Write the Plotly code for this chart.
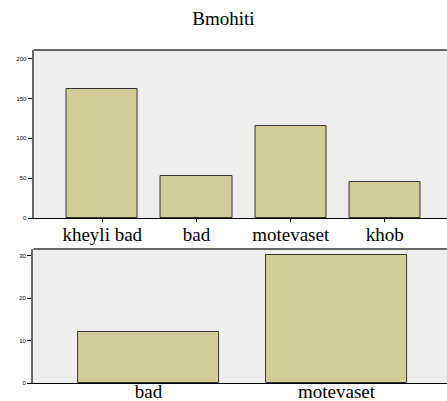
import plotly.graph_objects as go

title_text = "Bmohiti"
top_categories = ["kheyli bad", "bad", "motevaset", "khob"]
top_values = [162, 53, 116, 45]
top_ticks = [0, 50, 100, 150, 200]

bottom_categories = ["bad", "motevaset"]
bottom_values = [12, 30]
bottom_ticks = [0, 10, 20, 30]

bar_color = "#d2cd98"
edge_color = "#333333"
bg = "#eeeeee"
serif = "Liberation Serif, Times New Roman, serif"

H = 401.0

def fy(px):
    return 1 - px / H

fig = go.Figure()
fig.add_trace(go.Bar(x=top_categories, y=top_values, width=0.755,
                     marker=dict(color=bar_color, line=dict(color=edge_color, width=1)),
                     xaxis="x", yaxis="y", showlegend=False))
fig.add_trace(go.Bar(x=bottom_categories, y=bottom_values, width=0.75,
                     marker=dict(color=bar_color, line=dict(color=edge_color, width=1)),
                     xaxis="x2", yaxis="y2", showlegend=False))

common_x = dict(showline=True, linecolor="black", linewidth=1, ticks="outside",
                tickcolor="black", showgrid=False, zeroline=False, automargin=False,
                tickfont=dict(family=serif, size=19, color="black"), fixedrange=True)
common_y = dict(showline=True, linecolor="#666666", linewidth=2, ticks="outside",
                ticklen=4, tickcolor="black", showgrid=False, zeroline=False, automargin=False,
                tickfont=dict(family="Arial, sans-serif", size=6, color="black"), fixedrange=True)

top_dom = [fy(218), fy(50)]
bot_dom = [fy(383.3), fy(249)]

fig.update_layout(
    width=447, height=int(H),
    margin=dict(l=0, r=0, t=0, b=0, autoexpand=False),
    paper_bgcolor="white",
    plot_bgcolor=bg,
    title=dict(text=title_text, x=0.5, xanchor="center", y=fy(18), yanchor="middle",
               font=dict(family=serif, size=19, color="black")),
    xaxis=dict(domain=[0.075, 1.0], anchor="y", range=[-0.73, 3.66], ticklen=3,
               ticklabelstandoff=-4, **common_x),
    yaxis=dict(domain=top_dom, anchor="x", range=[0, 211], tickvals=top_ticks, **common_y),
    xaxis2=dict(domain=[0.074, 1.0], anchor="y2", range=[-0.614, 1.588], ticklen=0,
                ticklabelstandoff=-9, **common_x),
    yaxis2=dict(domain=bot_dom, anchor="x2", range=[0, 31.5], tickvals=bottom_ticks, **common_y),
    bargap=0,
)

# top borders of the two plot panels
for ydom in (top_dom[1], bot_dom[1]):
    fig.add_shape(type="line", xref="paper", yref="paper", x0=0.075, x1=1.0, y0=ydom, y1=ydom,
                  line=dict(color="#666666", width=2))

fig.write_html("out.html", config={"displayModeBar": False},
               post_script="document.body.style.margin='0';document.body.style.overflow='hidden';")
